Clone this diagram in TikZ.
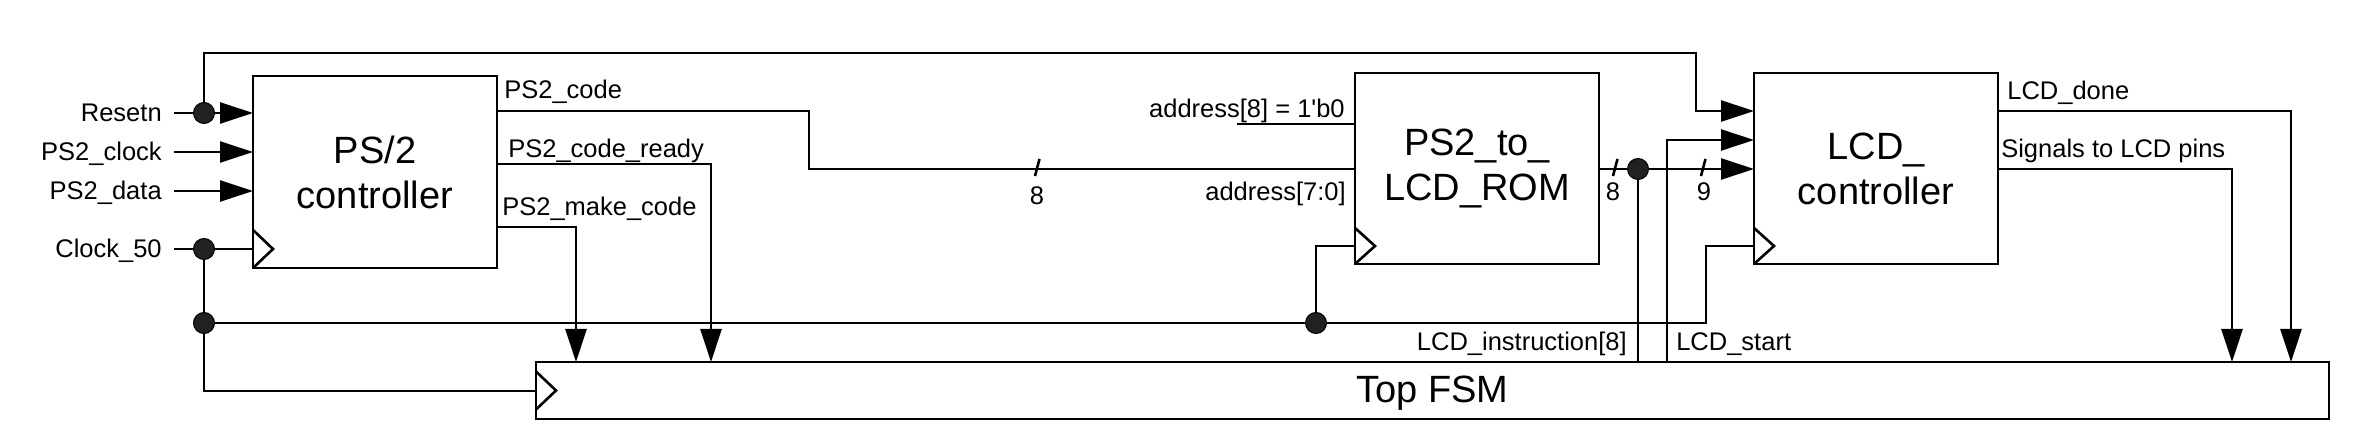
\documentclass[tikz,border=0pt]{standalone}
\usepackage{fontspec}
\setmainfont{Liberation Sans}
\usetikzlibrary{arrows.meta}
\begin{document}
\begin{tikzpicture}[x=1pt,y=-1pt,line width=2.6pt,
  lbl/.style={inner sep=0pt,font=\fontsize{25.5}{30}\selectfont},
  blk/.style={draw,inner sep=0pt,outer sep=0pt,align=center,anchor=north west,font=\fontsize{38}{45}\selectfont},
  sig/.style={-{Triangle[length=33pt,width=21pt]}},
  jdot/.style={circle,fill=black!87,draw=black,line width=1pt,minimum size=21pt,inner sep=0pt},
  clkmark/.style={line width=2.6pt}]
\useasboundingbox (0,0) rectangle (2364,446);

% blocks
\node[blk,minimum width=244pt,minimum height=192pt] (ps2) at (253,76) {PS/2\\controller};
\node[blk,minimum width=244pt,minimum height=191pt] (rom) at (1355,73) {PS2\_to\_\\LCD\_ROM};
\node[blk,minimum width=244pt,minimum height=191pt] (lcd) at (1754,73) {LCD\_\\controller};
\node[blk,minimum width=1793pt,minimum height=57pt,text depth=2pt] (fsm) at (536,362) {Top FSM};

% clock marks
\draw[clkmark] (ps2.south west) ++(0,-38) -- ++(20,19) -- (ps2.south west);
\draw[clkmark] (rom.south west) ++(0,-36) -- ++(20,18) -- (rom.south west);
\draw[clkmark] (lcd.south west) ++(0,-36) -- ++(20,18) -- (lcd.south west);
\draw[clkmark] (fsm.west) ++(0,-19) -- ++(20,19) -- ++(-20,19);

% coordinates
\coordinate (rstin) at (174,113);
\coordinate (ckin)  at (174,152);
\coordinate (datin) at (174,191);
\coordinate (c50in) at (174,249);
\coordinate (rstj)  at (204,113);
\coordinate (c50j)  at (204,249);
\coordinate (clkj)  at (204,323);
\coordinate (clkb)  at (204,391);
\coordinate (topr)  at (1696,53);
\coordinate (clkr)  at (1706,323);
\coordinate (romj)  at (1316,323);
\coordinate (codeb) at (809,111);
\coordinate (adr8)  at (1237,124);
\coordinate (instj) at (1638,169);
\coordinate (rdyx)  at (711,164);
\coordinate (mkx)   at (576,227);
\coordinate (stx)   at (1667,140);
\coordinate (donex) at (2291,111);
\coordinate (pinx)  at (2232,169);

% input labels
\node[lbl,anchor=base east] (lrst) at (163,122) {Resetn};
\node[lbl,anchor=base east] (lck)  at (163,161) {PS2\_clock};
\node[lbl,anchor=base east] (ldat) at (163,200) {PS2\_data};
\node[lbl,anchor=base east] (lc50) at (163,258) {Clock\_50};

% inputs
\draw[sig] (rstin) -- (ps2.west |- rstin);
\draw[sig] (ckin) -- (ps2.west |- ckin);
\draw[sig] (datin) -- (ps2.west |- datin);
\draw (c50in) -- (ps2.west |- c50in);
\draw[sig] (rstj) |- (topr) |- (lcd.west |- donex);
\draw (c50j) -- (clkb) -- (fsm.west |- clkb);
\draw (clkj) -- (clkr) |- (lcd.south west |- 0,246);
\draw (romj) |- (rom.south west |- 0,246);

% PS2 controller outputs
\draw (ps2.east |- codeb) -- (codeb) |- (rom.west |- instj);
\draw[sig] (ps2.east |- rdyx) -| (fsm.north -| rdyx);
\draw[sig] (ps2.east |- mkx) -| (fsm.north -| mkx);
\node[lbl,anchor=base west] (lcode) at (503,98.5) {PS2\_code};
\node[lbl,anchor=base west] (lrdy)  at (507,158) {PS2\_code\_ready};
\node[lbl,anchor=base west] (lmk)   at (501,216) {PS2\_make\_code};

% ROM inputs
\draw (adr8) -- (rom.west |- adr8);
\node[lbl,anchor=base east] (la8) at (1346,118) {address[8] = 1\textquotesingle b0};
\node[lbl,anchor=base east] (la7) at (1347,201) {address[7:0]};
\draw (1039.5,159) -- (1035,176);
\node[lbl,anchor=base] (n8a) at (1037,205) {8};

% ROM -> LCD
\draw[sig] (rom.east |- instj) -- (lcd.west |- instj);
\draw (1617.5,159) -- (1613,176);
\node[lbl,anchor=base] (n8b) at (1613,201) {8};
\draw (1705.5,159) -- (1701,176);
\node[lbl,anchor=base] (n9) at (1704,201) {9};
\draw (instj) -- (fsm.north -| instj);
\draw[sig] (fsm.north -| stx) |- (lcd.west |- stx);
\node[lbl,anchor=base east] (linst) at (1628,350) {LCD\_instruction[8]};
\node[lbl,anchor=base west] (lst)   at (1675,350) {LCD\_start};

% LCD outputs
\draw[sig] (lcd.east |- donex) -| (fsm.north -| donex);
\draw[sig] (lcd.east |- pinx) -| (fsm.north -| pinx);
\node[lbl,anchor=base west] (ldone) at (2006,100) {LCD\_done};
\node[lbl,anchor=base west] (lpins) at (2000,158) {Signals to LCD pins};

% junction dots
\node[jdot] at (rstj) {};
\node[jdot] at (c50j) {};
\node[jdot] at (clkj) {};
\node[jdot] at (romj) {};
\node[jdot] at (instj) {};
\end{tikzpicture}
\end{document}
